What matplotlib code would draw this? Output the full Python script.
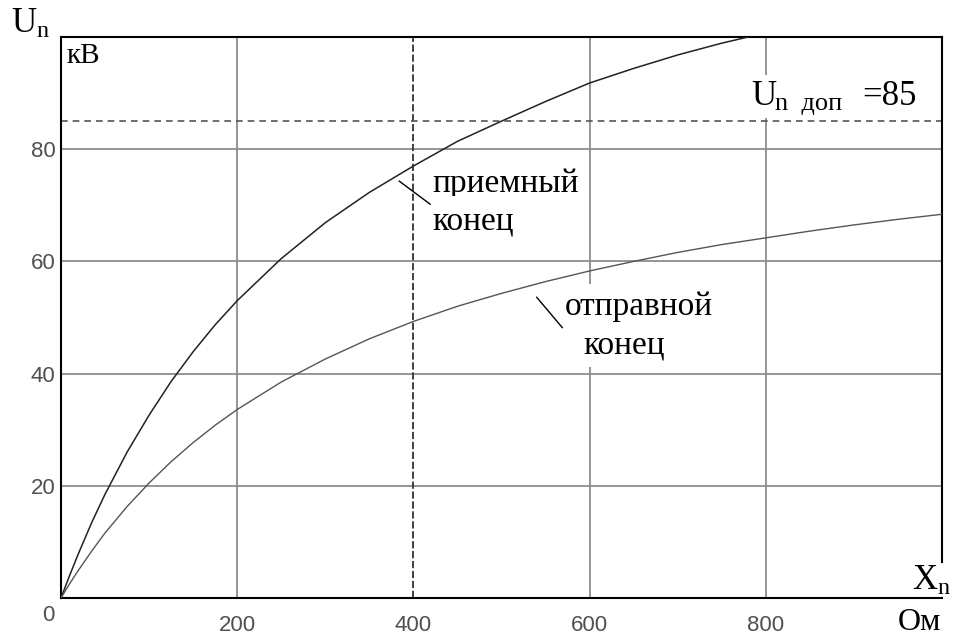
import numpy as np
import matplotlib.pyplot as plt
from matplotlib.patches import Rectangle

plt.rcParams['mathtext.fontset'] = 'custom'
plt.rcParams['mathtext.rm'] = 'Liberation Serif'
plt.rcParams['mathtext.it'] = 'Liberation Serif:italic'

#%% Data
x_recv = [0, 10, 20, 35, 50, 75, 100, 125, 150, 175, 200, 250, 300, 350, 400,
          450, 500, 550, 600, 650, 700, 750, 780]
u_recv = [0, 4.1, 8.0, 13.5, 18.5, 26.0, 32.6, 38.6, 43.9, 48.7, 53.0, 60.5, 66.9,
          72.3, 77.0, 81.4, 85.0, 88.5, 91.8, 94.4, 96.8, 98.9, 100.0]

x_send = [0, 10, 20, 35, 50, 75, 100, 125, 150, 175, 200, 250, 300, 350, 400, 450,
          500, 550, 600, 650, 700, 750, 800, 850, 900, 950, 1000]
u_send = [0, 2.6, 5.0, 8.4, 11.6, 16.3, 20.5, 24.3, 27.7, 30.8, 33.6, 38.5, 42.6,
          46.2, 49.3, 52.0, 54.3, 56.4, 58.3, 60.0, 61.6, 63.0, 64.2, 65.4, 66.5,
          67.5, 68.4]

u_allowed = 85
x_marked = 400
x_ticks = [200, 400, 600, 800]
y_ticks = [20, 40, 60, 80]

#%% Plot
W, H = 965, 637
fig = plt.figure(figsize=(W / 100, H / 100), dpi=100)
ax = fig.add_axes([61 / W, 1 - 598 / H, (942 - 61) / W, (598 - 37) / H])
ax.set_xlim(0, 1000)
ax.set_ylim(0, 100)

grid_kw = dict(color='#8c8c8c', lw=1.3, zorder=1)
for xv in x_ticks:
    if xv != x_marked:
        ax.axvline(xv, **grid_kw)
for yv in y_ticks:
    ax.axhline(yv, **grid_kw)
ax.axvline(x_marked, color='#333333', lw=1.3, ls=(0, (4, 1.5)), zorder=1.5)
ax.axhline(u_allowed, color='#555555', lw=1.2, ls=(0, (4, 3)), zorder=1.5)

ax.plot(x_recv, u_recv, color='#222222', lw=1.1, zorder=3)
ax.plot(x_send, u_send, color='#555555', lw=1.0, zorder=3)

# leader ticks next to the curve labels
ax.plot([384, 419], [74.3, 70.2], color='black', lw=1.0, zorder=3)
ax.plot([540, 569], [53.6, 48.2], color='black', lw=1.0, zorder=3)

ax.set_xticks(x_ticks)
ax.set_yticks(y_ticks)
ax.tick_params(length=0, labelcolor='#505050', labelsize=16)
ax.tick_params(axis='x', pad=12)
ax.tick_params(axis='y', pad=4)
for lab in ax.get_xticklabels() + ax.get_yticklabels():
    lab.set_fontfamily('Liberation Sans')

for side in ['left', 'top', 'bottom', 'right']:
    ax.spines[side].set_linewidth(1.5)
    ax.spines[side].set_color('black')
ax.spines['right'].set_bounds(6.4, 100)

serif = 'Liberation Serif'


def ftext(px, py, s, size, pad=None, z=2, **kw):
    """Text placed by pixel position of its left baseline."""
    if pad is not None:
        kw['bbox'] = dict(facecolor='white', edgecolor='none',
                          boxstyle=f'square,pad={pad}')
    return ax.text(px / W, 1 - py / H, s, transform=fig.transFigure,
                   fontsize=size, fontfamily=serif, ha='left', va='baseline',
                   zorder=z, clip_on=False, **kw)


ftext(11, 33, r'$\mathregular{U_n}$', 25)
ftext(67, 63, 'кВ', 21)
ftext(432, 192, 'приемный', 24, pad=0.3)
ftext(432, 229, 'конец', 24, pad=0.3)
ftext(565, 315, 'отправной', 24, pad=0.22)
ftext(583, 353, 'конец', 24, pad=0.22)

# white region behind the allowed-voltage label
ax.add_patch(Rectangle((745 / W, 1 - 118 / H), 175 / W, 43 / H,
                       transform=fig.transFigure, facecolor='white',
                       edgecolor='none', zorder=1.9, clip_on=False))
ftext(751, 105, 'U', 25)
ftext(775, 110, 'n  доп', 19)
ftext(862, 105, '=' + str(u_allowed), 25)

ftext(912, 590, r'$\mathregular{X_n}$', 25)
ftext(898, 630, 'Ом', 23)
fig.text(48 / W, 1 - 621 / H, '0', fontsize=16, fontfamily='Liberation Sans',
         color='#505050', ha='center', va='baseline')

plt.savefig('out.png', dpi=100)
